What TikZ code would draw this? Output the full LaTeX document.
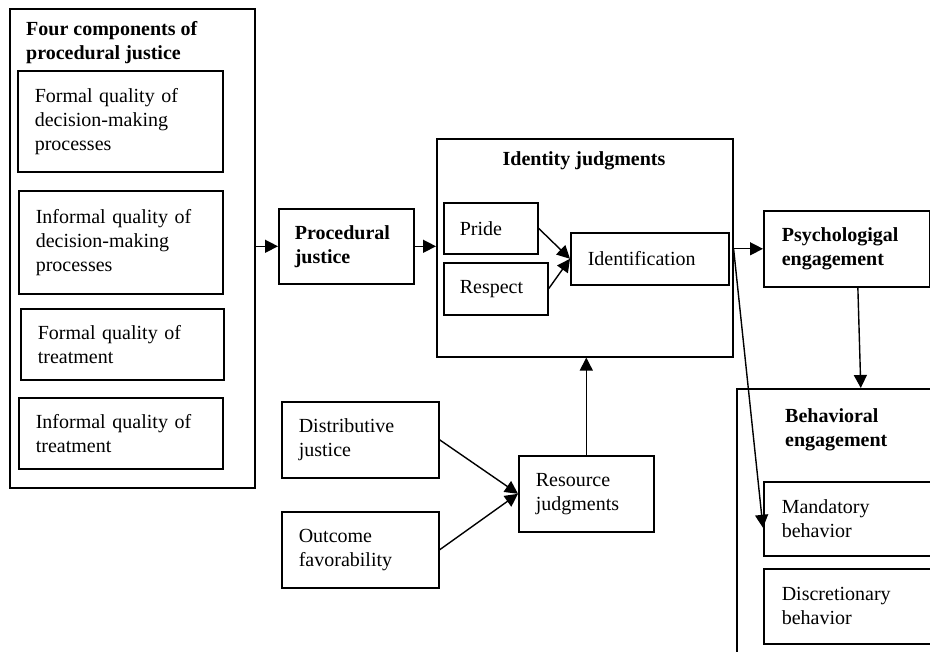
\documentclass[tikz,border=0pt]{standalone}
\usepackage{fontspec}
\setmainfont{Liberation Serif}
\usetikzlibrary{arrows.meta,calc}
\begin{document}
\begin{tikzpicture}[x=1pt,y=-1pt,
  box/.style={draw, line width=1.6pt, anchor=north west, align=left,
    inner xsep=17pt, inner ysep=0pt, font=\fontsize{20}{24}\selectfont},
  boldbox/.style={box, font=\fontsize{20}{24}\selectfont\bfseries},
  frame/.style={draw, line width=1.6pt, anchor=north west, inner sep=0pt},
  heading/.style={font=\fontsize{20}{24}\selectfont\bfseries, inner sep=0pt, align=left},
  arr/.style={line width=1.4pt, -{Triangle[length=13pt,width=13pt]}},
]
\useasboundingbox (0,0) rectangle (930,652);
\clip (0,0) rectangle (930,652);

% Four components of procedural justice
\node[frame, minimum width=245pt, minimum height=479pt] (four) at (9,8) {};
\node[heading, anchor=north west] (fourtitle) at (26,21) {Four components of\\procedural justice};
\node[box, text width=171pt, minimum height=101pt] (fq1) at (17,70) {Formal quality of\\decision-making\\processes};
\node[box, text width=170pt, minimum height=103pt] (fq2) at (18,190) {Informal quality of\\decision-making\\processes};
\node[box, text width=169pt, minimum height=71pt] (fq3) at (20,308) {Formal quality of\\treatment};
\node[box, text width=170pt, minimum height=71pt] (fq4) at (18,397) {Informal quality of\\treatment};

% Procedural justice
\node[boldbox, inner xsep=16pt, text width=103pt, minimum height=75pt] (pj) at (278,208) {Procedural\\justice};

% Identity judgments
\node[frame, minimum width=296pt, minimum height=218pt] (idbox) at (436,138) {};
\node[heading, anchor=north] (idtitle) at (584,151) {Identity judgments};
\node[box, inner xsep=16pt, text width=62pt, minimum height=51pt] (pride) at (443,202) {Pride};
\node[box, inner xsep=16pt, text width=72pt, minimum height=52pt] (respect) at (443,262) {Respect};
\node[box, text width=124pt, minimum height=52pt] (ident) at (570,232) {Identification};

% Engagement
\node[boldbox, inner xsep=18pt, text width=130pt, minimum height=76pt] (psych) at (763,210) {Psychologigal\\engagement};
\node[frame, minimum width=248pt, minimum height=300pt] (behbox) at (736,388) {};
\node[heading, anchor=north west] (behtitle) at (785,408) {Behavioral\\engagement};
\node[box, inner xsep=18pt, text width=164pt, minimum height=74pt] (mand) at (763,481) {Mandatory\\behavior};
\node[box, inner xsep=18pt, text width=164pt, minimum height=75pt] (disc) at (763,568) {Discretionary\\behavior};

% Resource judgments
\node[box, text width=123pt, minimum height=76pt] (dist) at (281,401) {Distributive\\justice};
\node[box, text width=123pt, minimum height=76pt] (outc) at (281,511) {Outcome\\favorability};
\node[box, text width=101pt, minimum height=76pt] (res) at (518,455) {Resource\\judgments};

% Connectors
\draw[arr] (pj.west -| four.east) -- (pj.west);
\draw[arr] (pj.east) -- (pj.east -| idbox.west);
\draw[arr] (pride.east) -- (ident.west);
\draw[arr] (respect.east) -- (ident.west);
\coordinate (split) at (psych.west -| idbox.east);
\draw[arr] (split) -- (psych.west);
\draw[arr] (split) -- ([yshift=-9pt]mand.west);
\draw[arr] ($(psych.south west)!0.566!(psych.south east)$) -- (behbox.north);
\draw[arr] (res.north) -- (res.north |- idbox.south);
\draw[arr] (dist.east) -- (res.west);
\draw[arr] (outc.east) -- (res.west);
\end{tikzpicture}
\end{document}
